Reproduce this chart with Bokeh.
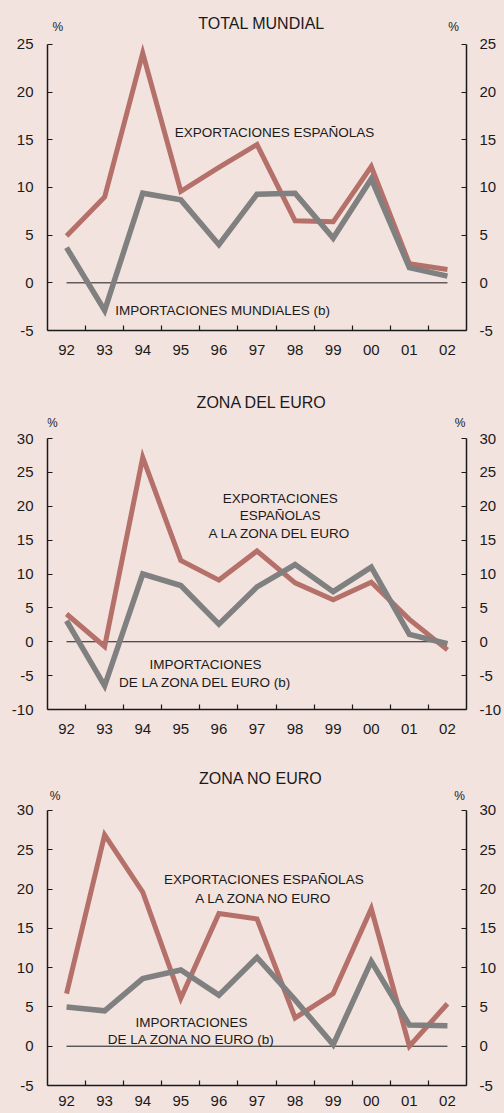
from bokeh.plotting import figure
from bokeh.models import Range1d, LinearAxis, FixedTicker, GlobalInlineStyleSheet
from bokeh.layouts import column
from bokeh.embed import file_html
from bokeh.resources import INLINE
from bokeh.core.properties import value

# ---------------- data ----------------
years = ["92", "93", "94", "95", "96", "97", "98", "99", "00", "01", "02"]
titles = ["TOTAL MUNDIAL", "ZONA DEL EURO", "ZONA NO EURO"]

exp_total = [4.9, 9.0, 24.1, 9.6, 12.1, 14.5, 6.5, 6.4, 12.2, 2.0, 1.4]
imp_total = [3.7, -2.9, 9.4, 8.7, 4.0, 9.3, 9.4, 4.7, 10.9, 1.6, 0.7]

exp_euro = [4.1, -0.7, 27.2, 12.0, 9.1, 13.4, 8.7, 6.2, 8.8, 3.3, -1.2]
imp_euro = [3.1, -6.5, 10.0, 8.3, 2.6, 8.1, 11.4, 7.4, 11.0, 1.1, -0.3]

exp_noeuro = [6.7, 26.9, 19.6, 6.1, 16.9, 16.2, 3.6, 6.7, 17.5, 0.0, 5.4]
imp_noeuro = [5.0, 4.5, 8.6, 9.7, 6.5, 11.3, 5.9, 0.2, 10.8, 2.7, 2.6]

y_limits = [(-5, 25), (-10, 30), (-5, 30)]
y_ticks = [[-5, 0, 5, 10, 15, 20, 25],
           [-10, -5, 0, 5, 10, 15, 20, 25, 30],
           [-5, 0, 5, 10, 15, 20, 25, 30]]

exp_labels = [["EXPORTACIONES ESPAÑOLAS"],
              ["EXPORTACIONES", "ESPAÑOLAS", "A LA ZONA DEL EURO"],
              ["EXPORTACIONES ESPAÑOLAS", "A LA ZONA NO EURO"]]
imp_labels = [["IMPORTACIONES MUNDIALES (b)"],
              ["IMPORTACIONES", "DE LA ZONA DEL EURO (b)"],
              ["IMPORTACIONES", "DE LA ZONA NO EURO (b)"]]

# ---------------- style ----------------
BG = "#f2e3df"
RED = "#b5706a"
GRAY = "#808080"
INK = "#1a1a1a"
FONT = "Liberation Sans"

# layout / label placement (data units) per panel
layout_cfg = [
    dict(height=375, bottom=45, left=47, right=36, view_top=29.615, xstand=14,
         exp_x=5.46, exp_y=[15.75], imp_x=4.10, imp_y=[-2.86],
         title_x=5.12, title_y=27.2, pct_y=26.8, pct_l=-0.23, pct_r=10.16),
    dict(height=373, bottom=39, left=46, right=36, view_top=39.30, xstand=14,
         exp_x=5.61, exp_y=[21.2, 18.6, 16.0], imp_x=3.65, imp_y=[-3.29, -5.95],
         title_x=5.13, title_y=35.27, pct_y=32.3, pct_l=-0.37, pct_r=10.33),
    dict(height=365, bottom=28, left=47, right=36, view_top=37.89, xstand=10,
         exp_x=5.18, exp_y=[21.19, 18.86], imp_x=3.28, imp_y=[3.05, 0.81],
         title_x=5.10, title_y=34.03, pct_y=31.9, pct_l=-0.30, pct_r=10.32),
]

series = [(exp_total, imp_total), (exp_euro, imp_euro), (exp_noeuro, imp_noeuro)]


def style_y_axis(ax, i, standoff):
    ax.ticker = FixedTicker(ticks=y_ticks[i])
    ax.major_label_overrides = {t: str(t) for t in y_ticks[i]}
    ax.bounds = y_limits[i]
    ax.major_tick_in = 5
    ax.major_tick_out = 0
    ax.minor_tick_line_color = None
    ax.major_tick_line_color = INK
    ax.major_tick_line_width = 1.2
    ax.axis_line_color = INK
    ax.axis_line_width = 1.5
    ax.major_label_text_font = FONT
    ax.major_label_text_font_size = "15px"
    ax.major_label_text_color = INK
    ax.major_label_standoff = standoff


def make_panel(i):
    cfg = layout_cfg[i]
    exp, imp = series[i]
    xs = list(range(len(years)))
    p = figure(width=504, height=cfg["height"], title=None,
               x_range=Range1d(-0.5, len(years) - 0.5),
               y_range=Range1d(y_limits[i][0], cfg["view_top"]),
               output_backend="svg", toolbar_location=None,
               min_border_top=0, min_border_bottom=cfg["bottom"],
               min_border_left=cfg["left"], min_border_right=cfg["right"],
               background_fill_color=BG, border_fill_color=BG,
               outline_line_color=None)
    p.xgrid.visible = False
    p.ygrid.visible = False

    # x axis: labels at category centres, ticks at boundaries
    xa = p.xaxis[0]
    xa.ticker = FixedTicker(ticks=xs, minor_ticks=[x + 0.5 for x in xs[:-1]])
    xa.major_label_overrides = {x: lab for x, lab in zip(xs, years)}
    xa.major_tick_in = 0
    xa.major_tick_out = 0
    xa.minor_tick_in = 5
    xa.minor_tick_out = 0
    xa.minor_tick_line_color = INK
    xa.minor_tick_line_width = 1.2
    xa.axis_line_color = INK
    xa.axis_line_width = 1.5
    xa.major_label_text_font = FONT
    xa.major_label_text_font_size = "15px"
    xa.major_label_text_color = INK
    xa.major_label_standoff = cfg["xstand"]

    style_y_axis(p.yaxis[0], i, 14)
    ra = LinearAxis()
    style_y_axis(ra, i, 13)
    p.add_layout(ra, "right")

    # zero reference line from first to last year
    p.line([xs[0], xs[-1]], [0, 0], line_color=INK, line_width=1)

    p.line(xs, exp, line_color=RED, line_width=5, line_join="miter")
    p.line(xs, imp, line_color=GRAY, line_width=5.5, line_join="miter")

    txt = dict(text_font=value(FONT), text_color=INK, text_align="center",
               text_baseline="middle")
    p.text(x=[cfg["exp_x"]] * len(exp_labels[i]), y=cfg["exp_y"], text=exp_labels[i],
           text_font_size="13.5px", **txt)
    p.text(x=[cfg["imp_x"]] * len(imp_labels[i]), y=cfg["imp_y"], text=imp_labels[i],
           text_font_size="13.5px", **txt)
    p.text(x=[cfg["title_x"]], y=[cfg["title_y"]], text=[titles[i]],
           text_font_size="16px", **txt)
    p.text(x=[cfg["pct_l"], cfg["pct_r"]], y=[cfg["pct_y"]] * 2, text=["%", "%"],
           text_font_size="12px", **txt)
    return p


page_css = GlobalInlineStyleSheet(css=f"html, body {{ background-color: {BG}; }}")
p = column(*[make_panel(i) for i in range(3)], spacing=0,
           styles={"background-color": BG}, stylesheets=[page_css])

open("out.html", "w").write(file_html(p, INLINE))
